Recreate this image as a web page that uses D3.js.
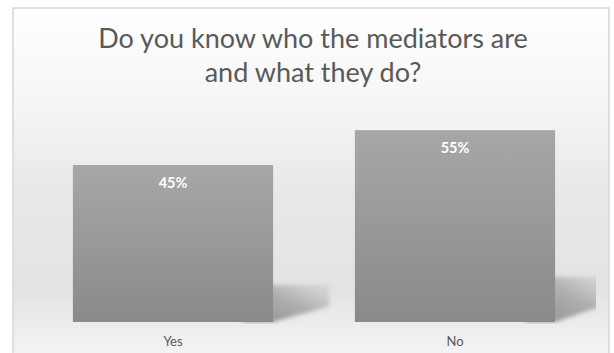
<!DOCTYPE html>
<html>
<head>
<meta charset="utf-8">
<script src="https://cdn.jsdelivr.net/npm/d3@7"></script>
<style>
  html, body { margin: 0; padding: 0; background: #ffffff; }
  svg { display: block; }
</style>
</head>
<body>
<svg id="chart" width="614" height="353"></svg>
<script>
// Survey answers
const categories = ["Yes", "No"];
const shares = [0.45, 0.55];
const titleLines = ["Do you know who the mediators are", "and what they do?"];

const svg = d3.select("#chart");
const defs = svg.append("defs");

// Chart area background: white at the top, soft grey band lower down
const bg = defs.append("linearGradient")
  .attr("id", "bgGrad").attr("x1", 0).attr("y1", 0).attr("x2", 0).attr("y2", 1);
[[0, "#ffffff"], [0.25, "#f6f6f6"], [0.5, "#e9e9e9"], [0.78, "#e3e3e3"], [0.9, "#eeeeee"], [1, "#f7f7f7"]]
  .forEach(([o, c]) => bg.append("stop").attr("offset", o).attr("stop-color", c));

// Bar fill gradient
const barGrad = defs.append("linearGradient")
  .attr("id", "barGrad").attr("x1", 0).attr("y1", 0).attr("x2", 0).attr("y2", 1);
barGrad.append("stop").attr("offset", 0).attr("stop-color", "#a7a7a7");
barGrad.append("stop").attr("offset", 1).attr("stop-color", "#8a8a8a");

// Floor shadow gradient (fades away from the bar)
const shGrad = defs.append("linearGradient")
  .attr("id", "shGrad").attr("x1", 0).attr("y1", 1).attr("x2", 1).attr("y2", 0);
shGrad.append("stop").attr("offset", 0).attr("stop-color", "#8c8c8c").attr("stop-opacity", 1);
shGrad.append("stop").attr("offset", 0.55).attr("stop-color", "#a4a4a4").attr("stop-opacity", 0.85);
shGrad.append("stop").attr("offset", 1).attr("stop-color", "#c4c4c4").attr("stop-opacity", 0.35);

defs.append("filter").attr("id", "soft")
  .attr("x", "-20%").attr("y", "-20%").attr("width", "140%").attr("height", "140%")
  .append("feGaussianBlur").attr("stdDeviation", 2);

// Frame
const frame = { x: 13, y: 8, w: 596, h: 360 };
svg.append("rect")
  .attr("x", frame.x).attr("y", frame.y)
  .attr("width", frame.w).attr("height", frame.h)
  .attr("fill", "url(#bgGrad)")
  .attr("stroke", "#d6d6d6").attr("stroke-width", 1.5);

// Title
svg.append("text")
  .attr("x", 313).attr("y", 48)
  .attr("text-anchor", "middle")
  .style("font-family", "Lato, 'Open Sans', sans-serif")
  .style("font-size", "27px")
  .attr("fill", "#595959")
  .selectAll("tspan").data(titleLines).join("tspan")
  .attr("x", 313)
  .attr("dy", (d, i) => i === 0 ? 0 : 34)
  .text(d => d);

// Scales
const plot = { left: 32, right: 596, bottom: 322 };
const x = d3.scaleBand().domain(categories)
  .range([plot.left, plot.right])
  .paddingInner(0.29).paddingOuter(0.145);
const y = d3.scaleLinear().domain([0, 0.6]).range([plot.bottom, plot.bottom - 209.3]);

const data = categories.map((c, i) => ({ cat: c, v: shares[i] }));

// Clip shadows to the plot area
defs.append("clipPath").attr("id", "plotClip")
  .append("rect").attr("x", plot.left).attr("y", 0)
  .attr("width", plot.right - plot.left).attr("height", plot.bottom + 2);

// Perspective floor shadows, drawn behind the bars
svg.append("g").attr("clip-path", "url(#plotClip)")
  .selectAll("path").data(data).join("path")
  .attr("fill", "url(#shGrad)")
  .attr("filter", "url(#soft)")
  .attr("d", d => {
    const x0 = x(d.cat), x1 = x0 + x.bandwidth();
    const yb = y(0), h = y(0) - y(d.v);
    const reach = x.bandwidth() * 0.28;
    return d3.line()([
      [x1 - 30, yb - h * 0.235],
      [x1 + reach, yb - h * 0.235],
      [x1 + reach, yb - h * 0.1],
      [x1, yb],
      [x1 - 30, yb]
    ]) + "Z";
  });

// Bars
svg.append("g").selectAll("rect").data(data).join("rect")
  .attr("x", d => x(d.cat))
  .attr("y", d => y(d.v))
  .attr("width", x.bandwidth())
  .attr("height", d => y(0) - y(d.v))
  .attr("fill", "url(#barGrad)");

// Value labels inside bars
svg.append("g").selectAll("text").data(data).join("text")
  .attr("x", d => x(d.cat) + x.bandwidth() / 2)
  .attr("y", d => y(d.v) + 23)
  .attr("text-anchor", "middle")
  .style("font-family", "Lato, 'Open Sans', sans-serif")
  .style("font-size", "14.5px")
  .style("font-weight", "bold")
  .attr("fill", "#ffffff")
  .text(d => d3.format(".0%")(d.v));

// Category axis labels
const xAxis = d3.axisBottom(x).tickSize(0).tickPadding(15);
const gx = svg.append("g").attr("transform", `translate(0,${plot.bottom})`).call(xAxis);
gx.select(".domain").remove();
gx.selectAll("text")
  .style("font-family", "Lato, 'Open Sans', sans-serif")
  .style("font-size", "13px")
  .attr("fill", "#595959");
</script>
</body>
</html>
